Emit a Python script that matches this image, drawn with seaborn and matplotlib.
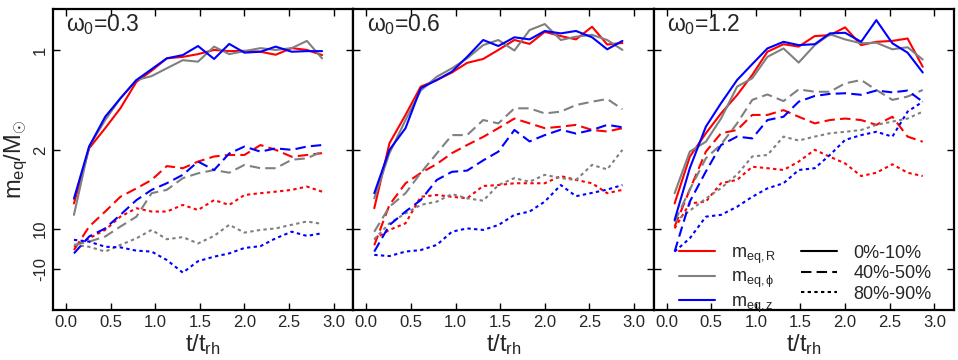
import pandas as pd
import matplotlib
matplotlib.use("Agg")
import matplotlib.pyplot as plt
from matplotlib.lines import Line2D
import seaborn as sns

sns.set_theme(style="ticks")
plt.rcParams["font.family"] = ["Liberation Sans", "DejaVu Sans"]
plt.rcParams["mathtext.fontset"] = "custom"
plt.rcParams["mathtext.rm"] = "Liberation Sans"
plt.rcParams["mathtext.it"] = "Liberation Sans"
plt.rcParams["mathtext.bf"] = "Liberation Sans:bold"

# time in units of t_rh
t = [0.09, 0.26, 0.44, 0.61, 0.79, 0.96, 1.13, 1.31, 1.48, 1.66, 1.83,
     2.00, 2.18, 2.35, 2.53, 2.70, 2.87]

# omega0 = 0.3
R_in_03 = [35.4, 53.7, 60.4, 67.0, 75.8, 79.5, 83.6, 84.1, 85.0, 86.4, 86.0, 86.1, 85.8, 84.8, 87.0, 86.4, 84.7]
P_in_03 = [31.6, 54.3, 63.1, 70.3, 76.4, 77.7, 80.3, 83.0, 82.5, 87.5, 85.0, 86.0, 87.0, 86.4, 87.0, 89.4, 83.6]
Z_in_03 = [37.0, 54.3, 64.2, 70.3, 76.4, 80.0, 83.6, 84.7, 87.7, 83.4, 88.4, 85.5, 85.8, 87.5, 85.8, 86.0, 86.0]
R_mid_03 = [19.9, 27.7, 32.7, 37.6, 40.4, 43.2, 47.8, 47.1, 49.3, 51.0, 51.5, 51.5, 54.8, 53.2, 50.9, 51.5, 52.1]
P_mid_03 = [21.6, 22.7, 24.4, 27.7, 31.0, 38.8, 39.9, 43.8, 45.4, 46.5, 45.6, 48.2, 47.1, 47.1, 49.9, 50.4, 52.6]
Z_mid_03 = [18.8, 24.4, 27.1, 31.6, 36.5, 39.9, 42.1, 44.9, 49.3, 46.5, 52.0, 54.3, 52.6, 53.7, 53.2, 54.3, 54.8]
R_out_03 = [21.0, 23.8, 26.6, 31.0, 33.8, 32.7, 32.7, 34.9, 33.2, 36.5, 34.9, 38.2, 38.8, 39.3, 39.9, 41.0, 39.3]
P_out_03 = [21.6, 21.0, 19.4, 21.6, 23.8, 26.6, 23.5, 24.2, 22.1, 24.6, 28.3, 25.7, 26.6, 27.1, 28.3, 29.4, 28.6]
Z_out_03 = [23.3, 22.7, 21.0, 20.8, 19.7, 19.4, 16.6, 12.4, 16.2, 17.7, 18.8, 20.6, 21.2, 23.8, 26.0, 24.6, 25.5]

# omega0 = 0.6
R_in_06 = [33.8, 55.4, 64.8, 74.2, 76.4, 78.9, 82.1, 83.4, 86.4, 89.7, 88.4, 92.4, 91.0, 89.9, 94.1, 88.2, 88.7]
P_in_06 = [37.1, 52.1, 63.1, 72.9, 77.5, 80.3, 83.6, 88.0, 89.7, 86.2, 93.0, 95.0, 89.7, 90.8, 91.4, 89.7, 86.4]
Z_in_06 = [38.8, 53.2, 60.4, 73.7, 76.4, 79.2, 84.1, 89.7, 87.7, 90.6, 89.9, 92.7, 91.9, 92.7, 90.6, 86.6, 89.4]
R_mid_06 = [21.5, 34.9, 42.1, 45.5, 48.5, 52.1, 54.8, 57.5, 60.4, 63.6, 62.0, 60.4, 60.9, 61.5, 59.8, 59.3, 60.4]
P_mid_06 = [26.0, 34.3, 38.8, 45.5, 52.0, 58.1, 58.1, 63.1, 62.0, 67.0, 67.0, 65.3, 65.9, 68.1, 69.2, 70.1, 66.7]
Z_mid_06 = [19.4, 28.2, 32.7, 36.5, 43.2, 45.9, 46.3, 49.7, 52.6, 59.8, 56.0, 58.1, 59.9, 58.6, 59.8, 61.5, 60.7]
R_out_06 = [23.5, 26.6, 28.8, 37.6, 38.2, 37.6, 37.1, 41.2, 41.5, 42.1, 42.1, 42.1, 44.5, 43.2, 42.1, 38.8, 39.9]
P_out_06 = [23.5, 28.8, 32.1, 34.9, 36.0, 38.5, 37.1, 36.3, 41.5, 43.8, 42.6, 44.9, 43.8, 43.2, 48.2, 46.7, 53.2]
Z_out_06 = [18.3, 17.9, 19.4, 19.9, 21.6, 26.0, 27.1, 26.6, 28.2, 31.6, 32.7, 36.0, 41.5, 37.8, 38.9, 40.0, 41.5]

# omega0 = 1.2
R_in_12 = [35.4, 50.9, 58.7, 65.3, 71.4, 78.1, 85.8, 88.3, 87.5, 91.0, 91.3, 93.9, 88.0, 89.1, 89.4, 90.2, 80.8]
P_in_12 = [38.8, 52.6, 55.9, 63.6, 74.2, 77.0, 84.1, 86.9, 82.2, 88.0, 91.6, 89.9, 88.6, 88.8, 86.6, 87.3, 83.2]
Z_in_12 = [29.9, 47.1, 60.9, 68.7, 76.4, 81.7, 86.9, 89.1, 88.0, 88.3, 91.9, 92.1, 89.1, 96.3, 88.6, 85.5, 78.9]
R_mid_12 = [27.7, 40.0, 52.6, 58.7, 59.8, 64.8, 64.8, 66.4, 64.2, 62.0, 63.1, 63.6, 63.1, 61.5, 64.2, 57.6, 55.9]
P_mid_12 = [29.3, 40.0, 50.4, 55.0, 62.0, 69.8, 71.6, 69.4, 73.3, 72.5, 72.5, 75.3, 76.4, 73.1, 69.8, 70.9, 73.1]
Z_mid_12 = [19.4, 36.0, 46.0, 54.8, 57.6, 57.0, 63.1, 64.2, 69.2, 71.1, 71.8, 72.0, 71.5, 72.9, 72.3, 72.9, 69.2]
R_out_12 = [27.1, 35.4, 36.0, 42.1, 43.2, 47.6, 47.1, 46.5, 49.3, 53.2, 50.9, 48.7, 44.5, 45.6, 48.4, 45.6, 44.5]
P_out_12 = [29.3, 33.0, 37.0, 40.5, 45.0, 51.0, 51.5, 57.6, 56.3, 57.6, 58.7, 59.2, 59.8, 61.5, 62.6, 63.6, 65.9]
Z_out_12 = [19.4, 23.8, 31.0, 31.6, 34.3, 37.6, 40.4, 42.1, 46.5, 47.1, 51.5, 56.5, 58.1, 59.2, 57.6, 65.9, 69.2]

omegas = ["0.3", "0.6", "1.2"]
components = ["R", "phi", "z"]
bins = ["0%-10%", "40%-50%", "80%-90%"]
ytick_pos = [13.6, 27.0, 53.2, 86.4]
ytick_lab = ["-10", "10", "2", "1"]

series = {
    "0.3": [[R_in_03, R_mid_03, R_out_03], [P_in_03, P_mid_03, P_out_03], [Z_in_03, Z_mid_03, Z_out_03]],
    "0.6": [[R_in_06, R_mid_06, R_out_06], [P_in_06, P_mid_06, P_out_06], [Z_in_06, Z_mid_06, Z_out_06]],
    "1.2": [[R_in_12, R_mid_12, R_out_12], [P_in_12, P_mid_12, P_out_12], [Z_in_12, Z_mid_12, Z_out_12]],
}

rows = []
for om in omegas:
    for ci, comp in enumerate(components):
        for bi, b in enumerate(bins):
            for tt, v in zip(t, series[om][ci][bi]):
                rows.append({"omega": om, "comp": comp, "bin": b, "t": tt, "m": v})
df = pd.DataFrame(rows)

palette = {"R": "#ff0000", "phi": "#808080", "z": "#0000ff"}
dashes = {"0%-10%": "", "40%-50%": (5, 2.5), "80%-90%": (1.6, 1.6)}

fig, axes = plt.subplots(1, 3, figsize=(9.58, 3.6), dpi=100, sharey=True)
fig.subplots_adjust(left=0.0553, right=0.9958, bottom=0.139, top=0.975, wspace=0)

for ax, om in zip(axes, omegas):
    sns.lineplot(data=df[df["omega"] == om], x="t", y="m", hue="comp", style="bin",
                 palette=palette, dashes=dashes, hue_order=components,
                 style_order=bins, lw=1.5, legend=False, ax=ax)
    ax.set_xlim(-0.145, 3.22)
    ax.set_ylim(0, 100)
    ax.set_xticks([0.0, 0.5, 1.0, 1.5, 2.0, 2.5, 3.0])
    ax.set_xticklabels(["0.0", "0.5", "1.0", "1.5", "2.0", "2.5", "3.0"])
    ax.set_yticks(ytick_pos)
    ax.tick_params(direction="in", top=True, right=True, length=5, width=1,
                   labelsize=12, color="black")
    ax.set_xlabel(r"t/t$_{\mathrm{rh}}$", fontsize=17, labelpad=2)
    ax.set_ylabel("")
    for sp in ax.spines.values():
        sp.set_linewidth(1.6)
        sp.set_color("black")
    ax.text(0.045, 0.99, r"$\omega_0$=" + om, transform=ax.transAxes,
            fontsize=16.5, va="top", ha="left")

axes[0].set_yticklabels(ytick_lab, rotation=90, va="center")
axes[0].set_ylabel(r"m$_{\mathrm{eq}}$/M$_{\odot}$", fontsize=17, labelpad=2)

handles = [Line2D([], [], color=palette[c], lw=1.5) for c in components]
handles += [Line2D([], [], color="black", lw=1.5, ls="-"),
            Line2D([], [], color="black", lw=1.5, dashes=dashes["40%-50%"]),
            Line2D([], [], color="black", lw=1.5, dashes=dashes["80%-90%"])]
labels = [r"m$_{\mathrm{eq,R}}$", r"m$_{\mathrm{eq,\phi}}$", r"m$_{\mathrm{eq,z}}$"] + bins
axes[2].legend(handles, labels, ncol=2, loc="lower left", bbox_to_anchor=(0.03, -0.07),
               frameon=False, fontsize=13, handlelength=2.0, handletextpad=0.9,
               columnspacing=1.35, labelspacing=0.2)

plt.savefig("out.png", dpi=100)
